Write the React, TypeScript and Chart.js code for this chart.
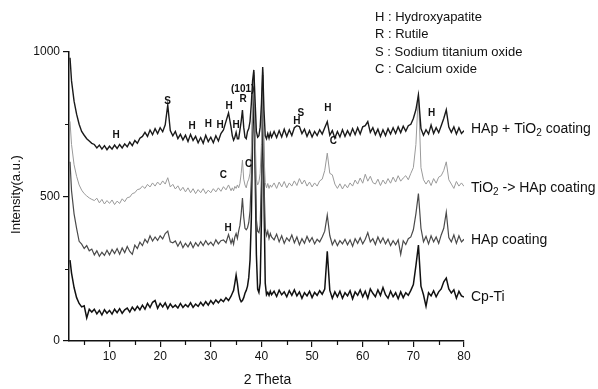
import React, { useEffect, useRef } from 'react';
import { Chart, registerables } from 'chart.js';

Chart.register(...registerables);

const FONT = '"Liberation Sans", Arial, Helvetica, sans-serif';

// 2θ sampling (degrees)
const twoTheta: number[] = [
  2.2, 2.5, 3, 3.5, 4, 4.5, 5, 5.5, 6, 6.5,
  7, 7.5, 8, 8.5, 9, 9.5, 10, 10.5, 11, 11.5,
  12, 12.5, 13, 13.5, 14, 14.5, 15, 15.5, 16, 16.5,
  17, 17.5, 18, 18.5, 19, 19.5, 20, 20.5, 21, 21.5,
  22, 22.5, 23, 23.5, 24, 24.5, 25, 25.5, 26, 26.5,
  27, 27.5, 28, 28.5, 29, 29.5, 30, 30.5, 31, 31.5,
  32, 32.5, 33, 33.5, 34,
  34.25, 34.5, 34.75, 35, 35.25, 35.5, 35.75, 36,
  36.25, 36.5, 36.75, 37, 37.25, 37.5, 37.75, 38,
  38.25, 38.5, 38.75, 39, 39.25, 39.5, 39.75, 40,
  40.25, 40.5, 40.75, 41, 41.25, 41.5, 41.75, 42,
  42.5, 43, 43.5, 44, 44.5, 45, 45.5, 46, 46.5, 47,
  47.5, 48, 48.5, 49, 49.5, 50, 50.5, 51, 51.5, 52,
  52.5, 53, 53.5, 54, 54.5, 55, 55.5, 56, 56.5, 57,
  57.5, 58, 58.5, 59, 59.5, 60, 60.5, 61, 61.5, 62,
  62.5, 63, 63.5, 64, 64.5, 65, 65.5, 66, 66.5, 67,
  67.5, 68, 68.5, 69, 69.5, 70, 70.5, 71, 71.5, 72,
  72.5, 73, 73.5, 74, 74.5, 75, 75.5, 76, 76.5, 77,
  77.5, 78, 78.5, 79, 79.5, 80,
];

// Intensity (a.u., stacked offsets as in the figure)
const hapTiO2Coating: number[] = [
  980, 900, 830, 785, 750, 725, 712, 700, 692, 684,
  680, 668, 678, 664, 676, 662, 674, 664, 678, 666,
  680, 668, 682, 672, 688, 676, 694, 684, 702, 708,
  722, 708, 730, 714, 735, 718, 738, 724, 748, 817,
  728, 710, 725, 700, 715, 696, 712, 690, 715, 694,
  708, 686, 704, 684, 712, 690, 705, 686, 710, 692,
  718, 730, 760, 789, 740,
  710, 695, 705, 722, 700, 700, 730, 760,
  799, 740, 705, 700, 725, 735, 760, 820,
  900, 938, 830, 725, 705, 710, 740, 820,
  948, 800, 710, 700, 718, 702, 720, 705,
  725, 704, 728, 706, 733, 708, 731, 711, 738, 745,
  742, 718, 733, 708, 728, 706, 725, 711, 731, 716,
  738, 759, 712, 728, 702, 725, 706, 731, 708, 728,
  711, 735, 714, 738, 716, 741, 745, 759, 722, 738,
  714, 733, 708, 731, 711, 735, 716, 738, 718, 741,
  721, 743, 726, 745, 750, 770, 800, 851, 735, 712,
  731, 716, 747, 718, 738, 721, 745, 770, 800, 740,
  722, 741, 716, 738, 718, 728,
];

const tiO2ToHapCoating: number[] = [
  760, 680, 610, 570, 540, 522, 510, 502, 495, 490,
  486, 494, 478, 490, 474, 486, 476, 488, 472, 484,
  476, 492, 482, 496, 498, 510, 513, 524, 526, 536,
  528, 542, 533, 547, 536, 550, 540, 554, 543, 565,
  533, 542, 526, 537, 520, 532, 516, 530, 513, 527,
  510, 524, 513, 527, 510, 522, 513, 527, 516, 530,
  518, 534, 523, 540, 520,
  530, 520, 535, 528, 540, 530, 545, 580,
  626, 560, 540, 530, 550, 560, 581, 650,
  820, 930, 720, 560, 540, 550, 580, 680,
  940, 650, 548, 530, 545, 528, 540, 532,
  547, 528, 550, 533, 552, 530, 547, 536, 554, 538,
  562, 543, 557, 536, 550, 533, 547, 536, 554, 560,
  590, 650, 580, 575, 543, 528, 544, 526, 542, 530,
  547, 536, 557, 543, 564, 546, 577, 553, 570, 548,
  543, 560, 538, 557, 543, 562, 546, 567, 550, 572,
  553, 564, 572, 558, 580, 600, 680, 860, 600, 558,
  543, 557, 538, 562, 546, 567, 572, 590, 620, 558,
  543, 528, 552, 536, 547, 535,
];

const hapCoating: number[] = [
  620, 520, 440, 390, 345, 335, 320, 330, 312, 318,
  298, 312, 293, 307, 296, 314, 298, 317, 303, 320,
  300, 322, 306, 327, 310, 300, 332, 320, 342, 330,
  352, 340, 364, 346, 360, 348, 364, 353, 372, 380,
  343, 340, 346, 328, 344, 323, 338, 326, 342, 323,
  340, 328, 344, 330, 347, 333, 342, 330, 350, 336,
  347, 350, 340, 368, 338,
  352, 335, 360, 372, 355, 380, 400, 440,
  495, 430, 390, 385, 392, 410, 450, 560,
  780, 920, 650, 420, 380, 375, 400, 560,
  930, 560, 390, 365, 380, 355, 372, 360,
  350, 370, 343, 364, 338, 357, 346, 367, 340, 360,
  333, 354, 338, 362, 343, 358, 336, 352, 343, 360,
  380, 436, 365, 333, 350, 330, 347, 336, 352, 333,
  350, 328, 354, 338, 357, 336, 352, 375, 343, 354,
  334, 360, 340, 357, 336, 352, 330, 347, 333, 350,
  300, 347, 334, 354, 360, 385, 440, 510, 390, 343,
  362, 336, 364, 343, 360, 338, 367, 390, 446, 358,
  343, 367, 338, 364, 343, 352,
];

const cpTi: number[] = [
  280, 235, 185, 150, 130, 118, 122, 80, 110, 100,
  110, 94, 106, 90, 108, 96, 106, 93, 110, 98,
  112, 96, 108, 114, 100, 117, 106, 120, 108, 124,
  110, 130, 116, 134, 140, 113, 130, 118, 132, 112,
  128, 116, 124, 114, 130, 116, 126, 118, 132, 116,
  128, 120, 134, 122, 136, 124, 140, 128, 142, 132,
  144, 136, 150, 140, 155,
  165, 175, 200, 228, 200, 165, 145, 136,
  140, 150, 165, 175, 190, 220, 280, 420,
  700, 900, 600, 300, 180, 168, 200, 420,
  920, 500, 200, 160, 168, 158, 172, 160,
  172, 154, 176, 160, 170, 153, 174, 158, 177, 156,
  170, 148, 167, 156, 172, 150, 168, 158, 174, 162,
  180, 310, 175, 148, 170, 153, 172, 148, 167, 156,
  174, 146, 170, 158, 177, 153, 172, 148, 180, 165,
  153, 177, 158, 185, 160, 148, 172, 153, 167, 146,
  170, 150, 167, 158, 175, 195, 260, 332, 190, 160,
  120, 167, 156, 174, 153, 170, 180, 205, 218, 180,
  166, 177, 148, 172, 156, 152,
];

const xTicks: number[] = [10, 20, 30, 40, 50, 60, 70, 80];
const xMinorTicks: number[] = [5, 15, 25, 35, 45, 55, 65, 75];
const yTicks: number[] = [0, 500, 1000];
const yMinorTicks: number[] = [250, 750];

// Peak markers
const peakText: string[] = ['H', 'S', 'H', 'H', 'H', 'H', 'H', 'R', '(101)', 'H', 'S', 'H', 'H', 'C', 'C', 'C', 'H'];
const peakTheta: number[] = [11.3, 21.45, 26.3, 29.5, 31.85, 33.6, 35.0, 36.4, 36.3, 47.0, 47.8, 53.1, 73.6, 32.5, 37.45, 54.2, 33.4];
const peakLevel: number[] = [713, 830, 744, 751, 747, 811, 747, 838, 871, 759, 788, 805, 788, 574, 611, 690, 390];

const legendLines: string[] = ['H : Hydroxyapatite', 'R : Rutile', 'S : Sodium titanium oxide', 'C : Calcium oxide'];

// Series name segments: [text, isSubscript]
const seriesNames: [string, boolean][][] = [
  [['HAp + TiO', false], ['2', true], [' coating', false]],
  [['TiO', false], ['2', true], [' -> HAp coating', false]],
  [['HAp coating', false]],
  [['Cp-Ti', false]],
];
const seriesNameLevel: number[] = [733, 529, 349, 152];

export default function App() {
  const ref = useRef<HTMLCanvasElement>(null);

  useEffect(() => {
    const canvas = ref.current;
    if (!canvas) return;
    const mk = (arr: number[]) => twoTheta.map((x, i) => ({ x, y: arr[i] }));

    const textPlugin = {
      id: 'xrdText',
      afterDraw(chart: any) {
        const { ctx, chartArea, scales } = chart;
        const xs = scales.x;
        const ys = scales.y;
        ctx.save();
        // minor ticks
        ctx.strokeStyle = '#111';
        ctx.lineWidth = 1.2;
        ctx.beginPath();
        xMinorTicks.forEach((v) => {
          const px = Math.round(xs.getPixelForValue(v)) + 0.5;
          ctx.moveTo(px, chartArea.bottom);
          ctx.lineTo(px, chartArea.bottom + 4);
        });
        yMinorTicks.forEach((v) => {
          const py = Math.round(ys.getPixelForValue(v)) + 0.5;
          ctx.moveTo(chartArea.left, py);
          ctx.lineTo(chartArea.left - 4, py);
        });
        ctx.stroke();

        ctx.fillStyle = '#111';
        // peak labels
        ctx.font = `bold 10px ${FONT}`;
        ctx.textAlign = 'center';
        ctx.textBaseline = 'middle';
        peakText.forEach((t, i) => {
          ctx.fillText(t, xs.getPixelForValue(peakTheta[i]), ys.getPixelForValue(peakLevel[i]));
        });

        // legend block
        ctx.font = `13px ${FONT}`;
        ctx.textAlign = 'left';
        legendLines.forEach((t, i) => {
          ctx.fillText(t, chartArea.right - 89, 17 + i * 17.5);
        });

        // series names
        seriesNames.forEach((segs, i) => {
          let x = chartArea.right + 7;
          const y = ys.getPixelForValue(seriesNameLevel[i]);
          segs.forEach(([t, sub]) => {
            ctx.font = sub ? `10px ${FONT}` : `14px ${FONT}`;
            ctx.textBaseline = 'middle';
            ctx.fillText(t, x, sub ? y + 4 : y);
            x += ctx.measureText(t).width;
          });
        });

        // axis titles
        ctx.font = `14px ${FONT}`;
        ctx.textAlign = 'center';
        ctx.textBaseline = 'middle';
        ctx.fillText('2 Theta', (chartArea.left + chartArea.right) / 2 + 1, chartArea.bottom + 39);
        ctx.translate(16, (chartArea.top + chartArea.bottom) / 2 - 2);
        ctx.rotate(-Math.PI / 2);
        ctx.font = `13px ${FONT}`;
        ctx.fillText('Intensity(a.u.)', 0, 0);
        ctx.restore();
      },
    };

    const chart = new Chart(canvas, {
      type: 'line',
      data: {
        datasets: [
          { label: 'HAp + TiO2 coating', data: mk(hapTiO2Coating), borderColor: '#1a1a1a', borderWidth: 1.4 },
          { label: 'TiO2 -> HAp coating', data: mk(tiO2ToHapCoating), borderColor: '#9a9a9a', borderWidth: 1 },
          { label: 'HAp coating', data: mk(hapCoating), borderColor: '#4a4a4a', borderWidth: 1.2 },
          { label: 'Cp-Ti', data: mk(cpTi), borderColor: '#111111', borderWidth: 1.5 },
        ].map((d) => ({ ...d, pointRadius: 0, tension: 0, fill: false })),
      },
      options: {
        animation: false,
        responsive: false,
        events: [],
        layout: { padding: { top: 52, right: 134, left: 0, bottom: 0 } },
        plugins: { legend: { display: false }, tooltip: { enabled: false } },
        scales: {
          x: {
            type: 'linear',
            min: 2,
            max: 80,
            afterFit: (s: any) => { s.height = 48; },
            afterBuildTicks: (s: any) => { s.ticks = xTicks.map((v) => ({ value: v })); },
            grid: { drawOnChartArea: false, drawTicks: true, tickLength: 6, color: '#111', lineWidth: 1.2 },
            border: { display: true, color: '#111', width: 1.5 },
            ticks: { color: '#111', font: { family: FONT, size: 12 }, padding: 2, maxRotation: 0, callback: (v: any) => String(v) },
          },
          y: {
            type: 'linear',
            min: 0,
            max: 1000,
            afterFit: (s: any) => { s.width = 69; },
            afterBuildTicks: (s: any) => { s.ticks = yTicks.map((v) => ({ value: v })); },
            grid: { drawOnChartArea: false, drawTicks: true, tickLength: 6, color: '#111', lineWidth: 1.2 },
            border: { display: true, color: '#111', width: 1.5 },
            ticks: { color: '#111', font: { family: FONT, size: 12 }, padding: 3, callback: (v: any) => String(v) },
          },
        },
      },
      plugins: [textPlugin],
    });
    return () => chart.destroy();
  }, []);

  return (
    <div style={{ position: 'absolute', left: 0, top: 0, width: 598, height: 389, background: '#fff' }}>
      <canvas ref={ref} width={598} height={389} style={{ display: 'block' }} />
    </div>
  );
}
